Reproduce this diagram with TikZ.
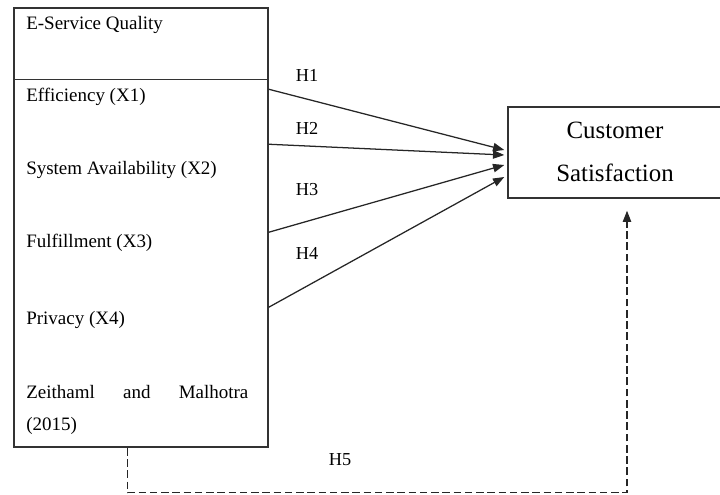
\documentclass[tikz,border=0pt]{standalone}
\usepackage{fontspec}
\setmainfont{Liberation Serif}
\usetikzlibrary{arrows.meta,calc,positioning}

\begin{document}
\begin{tikzpicture}
[
x = 0.025cm, y = -0.025cm,
frame/.style = {rectangle, draw = black!80, line width = 1pt, inner sep = 0pt},
item/.style = {anchor = west, inner sep = 0pt, font = \fontsize{13.5}{16}\selectfont},
hyp/.style = {inner sep = 0pt, font = \fontsize{13}{15}\selectfont},
link/.style = {draw = black!85, line width = 0.9pt, -{Triangle[length = 8pt, width = 6pt]}},
indirect/.style = {link, dash pattern = on 5.5pt off 2.5pt}
]
    \clip (0,0) rectangle (720,494);

    \node[frame, minimum width = 6.35cm, minimum height = 10.975cm] (esq) at (141,227.5) {};
    \draw[black!80, line width = 1pt] ($(esq.north west)+(0,72)$) -- ($(esq.north east)+(0,72)$);
    \node[frame, minimum width = 5.4cm, minimum height = 2.275cm] (cs) at (616,152.5) {};

    \node[item] (title) at (26,25) {E-Service Quality};
    \node[item] (x1) at (26,97) {Efficiency (X1)};
    \node[item] (x2) at (26,170) {System Availability (X2)};
    \node[item] (x3) at (26,243) {Fulfillment (X3)};
    \node[item] (x4) at (26,320) {Privacy (X4)};
    \node[item, anchor = north west, text width = 5.55cm, align = justify,
          font = \fontsize{13.5}{22.7}\selectfont] (ref) at (26,385) {Zeithaml and Malhotra (2015)};

    \node[align = center, inner sep = 0pt, font = \fontsize{17.7}{30.5}\selectfont] (cstext) at (615,151.5) {Customer\\Satisfaction};

    \node[hyp] (h1) at (307,75) {H1};
    \node[hyp] (h2) at (307,128) {H2};
    \node[hyp] (h3) at (307,190) {H3};
    \node[hyp] (h4) at (307,253) {H4};
    \node[hyp] (h5) at (340,460) {H5};

    \draw[link] ($(esq.north east)+(0,82)$) -- ($(cs.west)+(-3,-2.5)$);
    \draw[link] ($(esq.north east)+(0,137)$) -- ($(cs.west)+(-3,2.5)$);
    \draw[link] ($(esq.north east)+(0,225)$) -- ($(cs.west)+(-3,12.5)$);
    \draw[link] ($(esq.north east)+(0,300)$) -- ($(cs.west)+(-3,24.5)$);
    \draw[indirect] ($(esq.south west)+(114,0)$) -- ++(0,45) -| ($(cs.south)+(11,12)$);
\end{tikzpicture}
\end{document}
